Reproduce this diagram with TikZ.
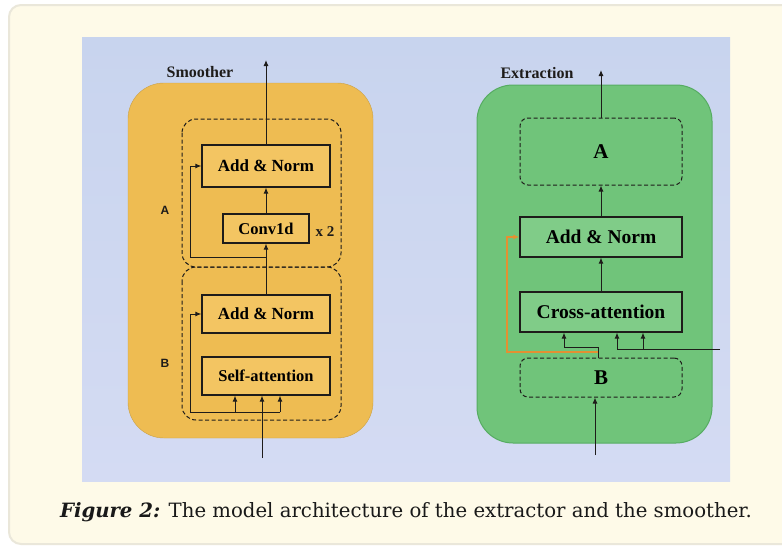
\documentclass[tikz,border=0pt]{standalone}
\usepackage{fontspec}
\setmainfont{Liberation Serif}
\setsansfont{Liberation Sans}
\newfontfamily\capfont{DejaVu Serif}
\usetikzlibrary{arrows.meta,calc}

\definecolor{cardbg}{RGB}{254,250,232}
\definecolor{cardline}{RGB}{234,231,218}
\definecolor{imgtop}{RGB}{200,212,238}
\definecolor{imgbot}{RGB}{212,219,243}
\definecolor{smoothbg}{RGB}{238,188,82}
\definecolor{smoothbox}{RGB}{243,197,98}
\definecolor{extrbg}{RGB}{112,196,122}
\definecolor{extrline}{RGB}{86,172,98}
\definecolor{extrbox}{RGB}{128,204,136}
\definecolor{resline}{RGB}{228,144,50}
\definecolor{ink}{RGB}{30,28,26}

\begin{document}
\begin{tikzpicture}[
    x=1pt, y=-1pt,
    block/.style={rectangle, draw=ink, line width=1.2pt, fill=#1, inner sep=0pt, font=\bfseries},
    group/.style={draw=ink, line width=1pt, dash pattern=on 4pt off 2.5pt, rounded corners=14pt},
    arrow/.style={-{Latex[length=6pt,width=5pt]}, line width=1pt, draw=ink},
    res/.style={-{Latex[length=6pt,width=5pt]}, line width=1.3pt, draw=resline},
    wire/.style={line width=1pt, draw=ink},
    lbl/.style={font=\bfseries\fontsize{16}{16}\selectfont, text=ink}
]
\useasboundingbox (0,0) rectangle (782,546);

% Card and figure background
\fill[white] (0,0) rectangle (782,546);
\draw[cardline, fill=cardbg, line width=2pt, rounded corners=12pt] (9,5) rectangle (820,544);
\shade[top color=imgtop, bottom color=imgbot] (82,37) rectangle (730,481);

% ---------------- Smoother ----------------
\draw[smoothbg!85!black, fill=smoothbg, rounded corners=36pt] (128,83) rectangle (373,438);
\draw[group] (182,119) rectangle (341,267);
\draw[group] (182,267) rectangle (341,420);

\node[block=smoothbox, minimum width=128pt, minimum height=42pt, font=\bfseries\fontsize{17}{17}\selectfont] (anA) at (266,166) {Add \& Norm};
\node[block=smoothbox, minimum width=86pt, minimum height=29pt, font=\bfseries\fontsize{16.5}{16.5}\selectfont] (conv) at (266,228.5) {Conv1d};
\node[block=smoothbox, minimum width=128pt, minimum height=38pt, font=\bfseries\fontsize{17}{17}\selectfont] (anB) at (266,314) {Add \& Norm};
\node[block=smoothbox, minimum width=128pt, minimum height=38pt, font=\bfseries\fontsize{16.5}{16.5}\selectfont] (sa) at (266,376) {Self-attention};

\node[lbl] (smooth) at (200,72) {Smoother};
\node[font=\bfseries\fontsize{15}{15}\selectfont, text=ink] (times) at (325,232) {x 2};
\node[font=\sffamily\bfseries\fontsize{12}{12}\selectfont, text=ink] (grpA) at (165,210) {A};
\node[font=\sffamily\bfseries\fontsize{12}{12}\selectfont, text=ink] (grpB) at (165,363) {B};

\coordinate (outS) at (266,60);
\coordinate (inS) at (262,458);
\coordinate (brS) at (262,412);
\coordinate (qS) at (235,412);
\coordinate (kS) at (280,412);
\coordinate (lB) at (190,314);
\coordinate (brA) at (266,257);
\coordinate (lA) at (190,166);

\draw[arrow] (inS) -- (inS |- sa.south);
\draw[wire] (brS) -- (kS);
\draw[arrow] (qS) -- (qS |- sa.south);
\draw[arrow] (kS) -- (kS |- sa.south);
\draw[arrow] (brS) -| (lB) -- (anB.west);
\draw[arrow] (anB.north) -- (conv.south);
\draw[arrow] (brA) -| (lA) -- (anA.west);
\draw[arrow] (conv.north) -- (anA.south);
\draw[arrow] (anA.north) -- (outS);

% ---------------- Extraction ----------------
\draw[extrline, fill=extrbg, line width=1pt, rounded corners=36pt] (477,85) rectangle (712,443);

\node[block=extrbg, group, minimum width=162pt, minimum height=67pt, font=\bfseries\fontsize{21}{21}\selectfont, rounded corners=8pt] (dA) at (601,151.5) {A};
\node[block=extrbox, minimum width=162pt, minimum height=40pt, font=\bfseries\fontsize{19.5}{19.5}\selectfont] (anR) at (601,237) {Add \& Norm};
\node[block=extrbox, minimum width=162pt, minimum height=40pt, font=\bfseries\fontsize{19.5}{19.5}\selectfont] (ca) at (601,312) {Cross-attention};
\node[block=extrbg, group, minimum width=162pt, minimum height=39pt, font=\bfseries\fontsize{21}{21}\selectfont, rounded corners=8pt] (dB) at (601,377.5) {B};

\node[lbl] (extr) at (537,73) {Extraction};

\coordinate (outE) at (601,70);
\coordinate (inE) at (595,455);
\coordinate (bo) at (598,358);
\coordinate (bq) at (564,347);
\coordinate (bo2) at (598,352);
\coordinate (rs) at (507,352);
\coordinate (rt) at (507,237);
\coordinate (kv) at (720,349);
\coordinate (k1) at (617,349);
\coordinate (k2) at (643,349);

\draw[arrow] (inE) -- (inE |- dB.south);
\draw[res] (bo2) -- (rs) -- (rt) -- (anR.west);
\draw[arrow] (bo) |- (bq) -- (bq |- ca.south);
\draw[wire] (kv) -- (k1);
\draw[arrow] (k1) -- (k1 |- ca.south);
\draw[arrow] (k2) -- (k2 |- ca.south);
\draw[arrow] (ca.north) -- (anR.south);
\draw[arrow] (anR.north) -- (dA.south);
\draw[arrow] (dA.north) -- (outE);

% Caption
\node[anchor=base, font=\capfont\fontsize{19.7}{19.7}\selectfont, text=black!90] (cap) at (406,517) {\textbf{\textit{Figure 2:}} The model architecture of the extractor and the smoother.};
\end{tikzpicture}
\end{document}
